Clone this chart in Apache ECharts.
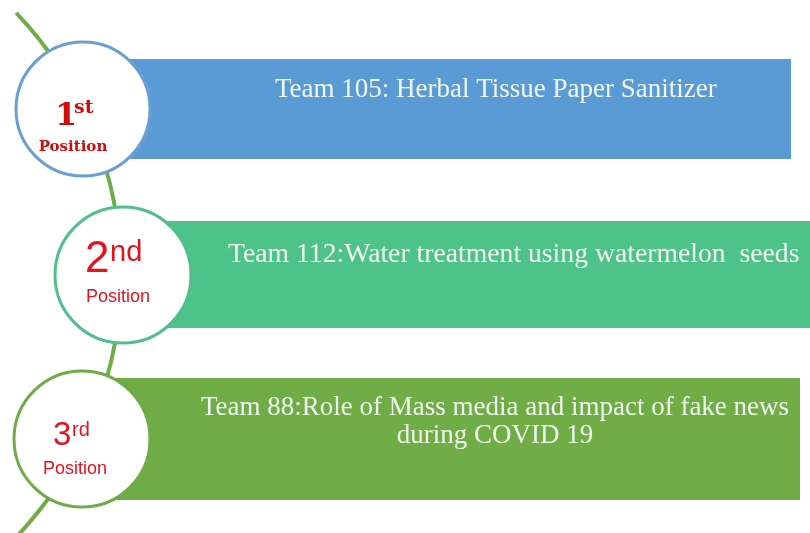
<!DOCTYPE html>
<html>
<head>
<meta charset="utf-8">
<script src="https://cdn.jsdelivr.net/npm/echarts@6/dist/echarts.min.js"></script>
<style>
  html, body { margin: 0; padding: 0; background: #ffffff; }
  #chart { width: 810px; height: 533px; }
</style>
</head>
<body>
<div id="chart"></div>
<script>
  // data
  var ranks = ['1', '2', '3']
  var suffixes = ['st', 'nd', 'rd']
  var positionLabels = ['Position', 'Position', 'Position']
  var teams = [
    'Team 105: Herbal Tissue Paper Sanitizer',
    'Team 112:Water treatment using watermelon  seeds',
    'Team 88:Role of Mass media and impact of fake news\nduring COVID 19',
  ]

  // layout, in pixel units of the hidden axes (810 x 533)
  var barBox = [
    { x0: 130, x1: 791, y0: 59, y1: 159 },
    { x0: 140, x1: 812, y0: 221, y1: 328 },
    { x0: 115, x1: 800, y0: 378, y1: 500 },
  ]
  var circleBox = [
    { cx: 83, cy: 109, r: 67 },
    { cx: 123, cy: 275, r: 68 },
    { cx: 82, cy: 439, r: 68 },
  ]
  var teamText = [
    { x: 275, y: 90, align: 'left', size: 27 },
    { x: 228, y: 255, align: 'left', size: 27.7 },
    { x: 495, y: 422, align: 'center', size: 27 },
  ]
  var rankText = [
    { nx: 55, ny: 117, sx: 74, sy: 108, px: 73, py: 147 },
    { nx: 85, ny: 260, sx: 110, sy: 253, px: 118, py: 297 },
    { nx: 53, ny: 436, sx: 72, sy: 430, px: 75, py: 469 },
  ]
  var rankFont = [
    { family: 'DejaVu Serif', weight: 'bold', num: 32, sup: 19, pos: 15, color: '#d10a0a' },
    { family: 'Liberation Sans', weight: 'normal', num: 44, sup: 29, pos: 18, color: '#e5121b' },
    { family: 'Liberation Sans', weight: 'normal', num: 33, sup: 20, pos: 18, color: '#e5121b' },
  ]
  var barColors = ['#5b9bd5', '#4dc38a', '#70ad47']
  var ringColors = ['#6a9fd3', '#4fbf8b', '#6fab49']
  var arcLine = { cx: -259, cy: 275, r: 380, start: -0.761, end: 0.86 }

  var chart = echarts.init(document.getElementById('chart'))

  function renderArc(params, api) {
    var c = api.coord([arcLine.cx, arcLine.cy])
    var r = api.size([arcLine.r, 0])[0]
    return {
      type: 'arc',
      shape: { cx: c[0], cy: c[1], r: r, startAngle: arcLine.start, endAngle: arcLine.end },
      style: { stroke: '#70ad47', lineWidth: 4, fill: null },
    }
  }

  function renderStep(params, api) {
    var i = api.value(0)
    var b = barBox[i]
    var c = circleBox[i]
    var t = teamText[i]
    var rt = rankText[i]
    var rf = rankFont[i]
    var p0 = api.coord([b.x0, b.y0])
    var p1 = api.coord([b.x1, b.y1])
    var cc = api.coord([c.cx, c.cy])
    var cr = api.size([c.r, 0])[0]
    var tp = api.coord([t.x, t.y])
    var np = api.coord([rt.nx, rt.ny])
    var sp = api.coord([rt.sx, rt.sy])
    var pp = api.coord([rt.px, rt.py])
    return {
      type: 'group',
      children: [
        {
          type: 'rect',
          shape: { x: p0[0], y: p0[1], width: p1[0] - p0[0], height: p1[1] - p0[1] },
          style: { fill: barColors[i] },
        },
        {
          type: 'text',
          x: tp[0],
          y: tp[1],
          style: {
            text: teams[i],
            fill: '#f1f7ef',
            font: t.size + 'px "Liberation Serif"',
            align: t.align,
            verticalAlign: 'middle',
            lineHeight: 28,
          },
        },
        {
          type: 'circle',
          shape: { cx: cc[0], cy: cc[1], r: cr },
          style: { fill: '#ffffff', stroke: ringColors[i], lineWidth: 3 },
        },
        {
          type: 'text',
          x: np[0],
          y: np[1],
          style: {
            text: ranks[i],
            fill: rf.color,
            font: rf.weight + ' ' + rf.num + 'px "' + rf.family + '"',
            align: 'left',
            verticalAlign: 'middle',
          },
        },
        {
          type: 'text',
          x: sp[0],
          y: sp[1],
          style: {
            text: suffixes[i],
            fill: rf.color,
            font: rf.weight + ' ' + rf.sup + 'px "' + rf.family + '"',
            align: 'left',
            verticalAlign: 'middle',
          },
        },
        {
          type: 'text',
          x: pp[0],
          y: pp[1],
          style: {
            text: positionLabels[i],
            fill: rf.color,
            font: rf.weight + ' ' + rf.pos + 'px "' + rf.family + '"',
            align: 'center',
            verticalAlign: 'middle',
          },
        },
      ],
    }
  }

  chart.setOption({
    animation: false,
    backgroundColor: '#ffffff',
    grid: { left: 0, right: 0, top: 0, bottom: 0 },
    xAxis: { type: 'value', min: 0, max: 810, show: false },
    yAxis: { type: 'value', min: 0, max: 533, inverse: true, show: false },
    series: [
      {
        type: 'custom',
        z: 1,
        clip: true,
        renderItem: renderArc,
        data: [[0]],
      },
      {
        type: 'custom',
        z: 2,
        renderItem: renderStep,
        data: ranks.map(function (r, i) {
          return [i]
        }),
      },
    ],
  })
</script>
</body>
</html>
